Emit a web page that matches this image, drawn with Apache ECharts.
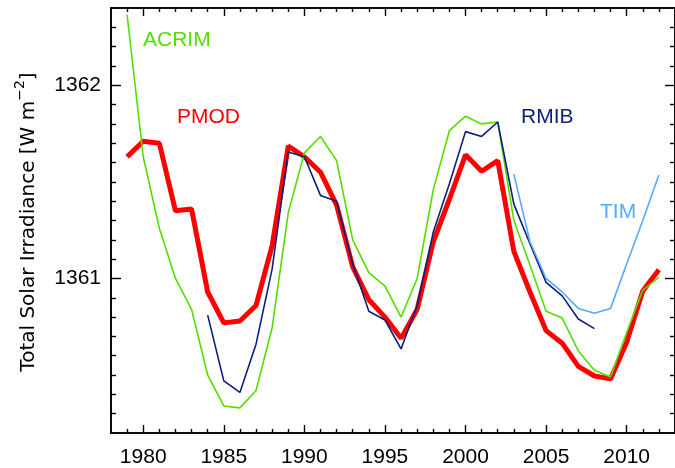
<!DOCTYPE html>
<html>
<head>
<meta charset="utf-8">
<script src="https://cdn.jsdelivr.net/npm/echarts@6/dist/echarts.min.js"></script>
<style>
html,body{margin:0;padding:0;background:#fff;}
#chart{width:675px;height:468px;}
</style>
</head>
<body>
<div id="chart"></div>
<script>
const years = [1979,1980,1981,1982,1983,1984,1985,1986,1987,1988,1989,1990,1991,1992,1993,1994,1995,1996,1997,1998,1999,2000,2001,2002,2003,2004,2005,2006,2007,2008,2009,2010,2011,2012];
const pmod = [1361.63,1361.71,1361.70,1361.35,1361.36,1360.93,1360.77,1360.78,1360.86,1361.17,1361.685,1361.63,1361.55,1361.38,1361.06,1360.89,1360.80,1360.69,1360.84,1361.19,1361.41,1361.64,1361.555,1361.61,1361.14,1360.93,1360.73,1360.665,1360.545,1360.495,1360.48,1360.67,1360.935,1361.045];
const acrim = [1362.365,1361.63,1361.26,1361.00,1360.84,1360.50,1360.34,1360.33,1360.42,1360.745,1361.34,1361.65,1361.735,1361.61,1361.20,1361.03,1360.96,1360.80,1361.00,1361.46,1361.765,1361.84,1361.80,1361.81,1361.30,1361.07,1360.83,1360.795,1360.625,1360.525,1360.49,1360.72,1360.94,1361.005];
const rmibYears = [1984,1985,1986,1987,1988,1989,1990,1991,1992,1993,1994,1995,1996,1997,1998,1999,2000,2001,2002,2003,2004,2005,2006,2007,2008];
const rmib = [1360.81,1360.47,1360.41,1360.66,1361.05,1361.655,1361.63,1361.43,1361.40,1361.075,1360.83,1360.785,1360.635,1360.86,1361.24,1361.49,1361.76,1361.735,1361.81,1361.385,1361.18,1360.98,1360.91,1360.79,1360.74];
const timYears = [2003,2004,2005,2006,2007,2008,2009,2010,2011,2012];
const tim = [1361.54,1361.19,1361.00,1360.93,1360.845,1360.82,1360.845,1361.075,1361.30,1361.535];

const xMajor = [1980,1985,1990,1995,2000,2005,2010];
const xMinor = [1979,1981,1982,1983,1984,1986,1987,1988,1989,1991,1992,1993,1994,1996,1997,1998,1999,2001,2002,2003,2004,2006,2007,2008,2009,2011,2012];
const yMajor = [1361,1362];
const yMinor = [1360.3,1360.4,1360.5,1360.6,1360.7,1360.8,1360.9,1361.1,1361.2,1361.3,1361.4,1361.5,1361.6,1361.7,1361.8,1361.9,1362.1,1362.2,1362.3];

const FONT = 'Liberation Sans';
const TFONT = 'DejaVu Sans';
const C_PMOD = '#ff0000', C_ACRIM = '#55dd00', C_RMIB = '#0d1f7d', C_TIM = '#55aaff';

function pairs(xs, ys){ return xs.map((x,i)=>[x, ys[i]]); }

const axisLine = {show:true, onZero:false, lineStyle:{color:'#000', width:1.6}};
function xAx(pos, vals, len, labels){
  return {type:'value', min:1978, max:2013, position:pos, splitLine:{show:false},
    axisLine: axisLine,
    axisTick:{show:true, inside:true, length:len, customValues: vals, lineStyle:{color:'#000', width:1.4}},
    axisLabel: labels ? {show:true, customValues: vals, margin:14, fontSize:21, color:'#000', fontFamily:FONT, formatter:v=>String(v)} : {show:false}
  };
}
function yAx(pos, vals, len, labels){
  return {type:'value', min:1360.2, max:1362.4, position:pos, offset:0, splitLine:{show:false},
    axisLine: axisLine,
    axisTick:{show:true, inside:true, length:len, customValues: vals, lineStyle:{color:'#000', width:1.4}},
    axisLabel: labels ? {show:true, customValues: vals, margin:10, fontSize:21, color:'#000', fontFamily:FONT, formatter:v=>String(v)} : {show:false}
  };
}

const chart = echarts.init(document.getElementById('chart'), null, {renderer:'canvas'});
chart.setOption({
  animation:false,
  backgroundColor:'#fff',
  grid:{left:111, top:8, right:-9, bottom:35, containLabel:false},
  xAxis:[xAx('bottom', xMajor, 8, true), xAx('bottom', xMinor, 4, false), xAx('top', xMajor, 8, false), xAx('top', xMinor, 4, false)],
  yAxis:[yAx('left', yMajor, 10, true), yAx('left', yMinor, 5, false), yAx('right', yMajor, 10, false), yAx('right', yMinor, 5, false)],
  series:[
    {type:'line', name:'PMOD', data:pairs(years, pmod), showSymbol:false, lineStyle:{color:C_PMOD, width:5}},
    {type:'line', name:'ACRIM', data:pairs(years, acrim), showSymbol:false, lineStyle:{color:C_ACRIM, width:1.6}},
    {type:'line', name:'RMIB', data:pairs(rmibYears, rmib), showSymbol:false, lineStyle:{color:C_RMIB, width:1.6}},
    {type:'line', name:'TIM', data:pairs(timYears, tim), showSymbol:false, lineStyle:{color:C_TIM, width:1.6}}
  ],
  graphic:[
    {type:'text', x:143, y:40, style:{text:'ACRIM', fill:C_ACRIM, font:'21px "'+FONT+'"', textAlign:'left', textVerticalAlign:'middle'}},
    {type:'text', x:177, y:117, style:{text:'PMOD', fill:C_PMOD, font:'21px "'+FONT+'"', textAlign:'left', textVerticalAlign:'middle'}},
    {type:'text', x:521, y:117, style:{text:'RMIB', fill:C_RMIB, font:'21px "'+FONT+'"', textAlign:'left', textVerticalAlign:'middle'}},
    {type:'text', x:600, y:212, style:{text:'TIM', fill:C_TIM, font:'21px "'+FONT+'"', textAlign:'left', textVerticalAlign:'middle'}},
    {type:'text', x:26, y:222, rotation:Math.PI/2, style:{
      text:'{a|Total Solar Irradiance [W m}{s|−2}{a|]}',
      textAlign:'center', textVerticalAlign:'middle',
      rich:{
        a:{fontSize:20, fontFamily:TFONT, fill:'#000', lineHeight:26, verticalAlign:'bottom'},
        s:{fontSize:14, fontFamily:TFONT, fill:'#000', lineHeight:26, verticalAlign:'top'}
      }
    }}
  ]
});
</script>
</body>
</html>
